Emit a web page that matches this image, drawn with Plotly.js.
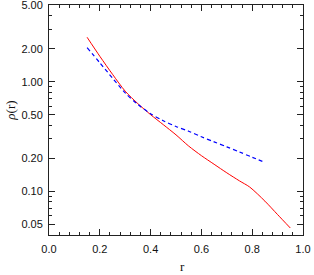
<!DOCTYPE html>
<html><head><meta charset="utf-8">
<script src="https://cdn.plot.ly/plotly-3.0.1.min.js"></script>
<style>html,body{margin:0;padding:0;background:#fff}#plot{width:314px;height:275px}</style>
</head><body><div id="plot"></div>
<script>
const rRed = [0.15,0.20,0.25,0.30,0.35,0.40,0.45,0.50,0.55,0.60,0.65,0.70,0.75,0.79,0.85,0.90,0.95];
const rhoRed = [2.55,1.71,1.17,0.82,0.63,0.50,0.405,0.327,0.258,0.211,0.176,0.147,0.124,0.109,0.081,0.061,0.046];
const rBlue = [0.15,0.20,0.25,0.30,0.35,0.40,0.45,0.50,0.55,0.60,0.65,0.70,0.75,0.80,0.85];
const rhoBlue = [2.05,1.49,1.08,0.79,0.62,0.51,0.44,0.39,0.353,0.314,0.282,0.254,0.228,0.204,0.183];
const yTickVals = [0.05,0.1,0.2,0.5,1,2,5];
const yTickText = ['0.05','0.10','0.20','0.50','1.00','2.00','5.00'];
const yMinorVals = [0.04,0.06,0.07,0.08,0.09,0.3,0.4,0.6,0.7,0.8,0.9,3,4];
const xTickVals = [0,0.2,0.4,0.6,0.8,1.0];
const xTickText = ['0.0','0.2','0.4','0.6','0.8','1.0'];
const xTitle = 'r';
const yTitle = '<i>ρ</i>(r)';

const data = [
  {x:rRed, y:rhoRed, type:'scatter', mode:'lines', line:{color:'#ff0000', width:1, shape:'spline', smoothing:0.8}},
  {x:rBlue, y:rhoBlue, type:'scatter', mode:'lines', line:{color:'#0000ff', width:1.2, dash:'4px,3px', shape:'spline', smoothing:0.8}}
];
const axisCommon = {
  showgrid:false, zeroline:false, showline:true, linecolor:'#222', linewidth:1,
  mirror:'allticks', ticks:'inside', ticklen:6, tickwidth:1, tickcolor:'#222',
  ticklabeloverflow:'allow',
  tickfont:{family:'Liberation Sans, Arial, sans-serif', size:11, color:'#111'}
};
const titleFont = {family:'Liberation Serif, Times New Roman, serif', size:13, color:'#111'};
const layout = {
  width:314, height:275,
  margin:{l:49, r:11, t:5, b:40},
  showlegend:false,
  paper_bgcolor:'#fff', plot_bgcolor:'#fff',
  xaxis: Object.assign({}, axisCommon, {
    range:[0,1], tickmode:'array', tickvals:xTickVals, ticktext:xTickText,
    ticklabelstandoff:4,
    minor:{dtick:0.04, tick0:0, ticklen:3, ticks:'inside', tickcolor:'#222'}
  }),
  yaxis: Object.assign({}, axisCommon, {
    type:'log', range:[Math.log10(0.0397), Math.log10(5.03)],
    tickmode:'array', tickvals:yTickVals, ticktext:yTickText,
    ticklabelstandoff:3,
    minor:{tickmode:'array', tickvals:yMinorVals, ticklen:3, ticks:'inside', tickcolor:'#222'}
  }),
  annotations:[
    {text:xTitle, xref:'paper', yref:'paper', x:0.525, y:-0.135, yanchor:'middle', xanchor:'center', showarrow:false, borderpad:0, font:titleFont},
    {text:yTitle, xref:'paper', yref:'paper', x:-0.15, y:0.54, xanchor:'center', yanchor:'middle', textangle:-90, showarrow:false, borderpad:0, font:titleFont}
  ]
};
Plotly.newPlot('plot', data, layout, {displayModeBar:false, staticPlot:true});
</script></body></html>
